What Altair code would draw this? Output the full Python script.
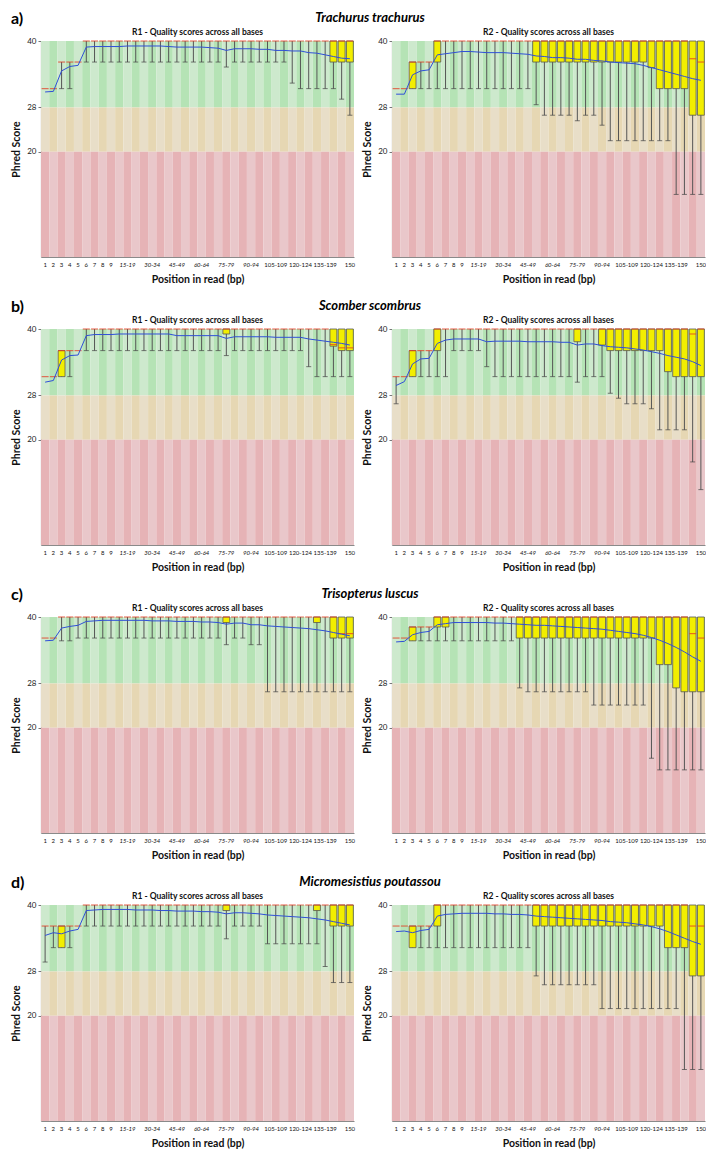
import altair as alt
import pandas as pd
import json

positions = ["1", "2", "3", "4", "5", "6", "7", "8", "9", "10-14", "15-19", "20-24", "25-29",
             "30-34", "35-39", "40-44", "45-49", "50-54", "55-59", "60-64", "65-69", "70-74",
             "75-79", "80-84", "85-89", "90-94", "95-99", "100-104", "105-109", "110-114",
             "115-119", "120-124", "125-129", "130-134", "135-139", "140-144", "145-149", "150"]
tick_labels = ["1", "2", "3", "4", "5", "6", "7", "8", "9", "15-19", "30-34", "45-49", "60-64",
               "75-79", "90-94", "105-109", "120-124", "135-139", "150"]
italic_labels = ["15-19", "30-34", "45-49", "60-64", "75-79", "90-94"]

letters = ["a)", "b)", "c)", "d)"]
species = ["Trachurus trachurus", "Scomber scombrus", "Trisopterus luscus", "Micromesistius poutassou"]
read_titles = ["R1 - Quality scores across all bases", "R2 - Quality scores across all bases"]

# quality bands
band_keys = ["g0", "g1", "o0", "o1", "r0", "r1"]
band_colors = ["#cde9cd", "#b5e3b5", "#e8dec8", "#e6d7b3", "#e6b3b6", "#e9c7ca"]
band_lo = [28, 20, 1]
band_hi = [40, 28, 20]
band_prefix = ["g", "o", "r"]

# ---------------- panel data (10th pct, Q1, median, Q3, 90th pct, mean) ----------------
a1_p10 = [31.4, 31.4, 31.4, 31.4, 36.2, 36.2, 36.2, 36.2, 36.2, 36.2, 36.2, 36.2, 36.2, 36.2, 36.2, 36.2, 36.2, 36.2, 36.2, 36.2, 36.2, 36.2, 35.3, 36.2, 36.2, 36.2, 36.2, 36.2, 36.2, 36.2, 32.4, 31.4, 31.4, 31.4, 31.4, 31.4, 29.5, 26.6]
a1_q1 = [31.4, 31.4, 36.2, 36.2, 36.2, 40, 40, 40, 40, 40, 40, 40, 40, 40, 40, 40, 40, 40, 40, 40, 40, 40, 40, 40, 40, 40, 40, 40, 40, 40, 40, 40, 40, 40, 40, 36.2, 36.2, 36.2]
a1_med = [31.4, 31.4, 36.2, 36.2, 36.2, 40, 40, 40, 40, 40, 40, 40, 40, 40, 40, 40, 40, 40, 40, 40, 40, 40, 40, 40, 40, 40, 40, 40, 40, 40, 40, 40, 40, 40, 40, 40, 40, 40]
a1_q3 = [31.4, 31.4, 36.2, 36.2, 36.2, 40, 40, 40, 40, 40, 40, 40, 40, 40, 40, 40, 40, 40, 40, 40, 40, 40, 40, 40, 40, 40, 40, 40, 40, 40, 40, 40, 40, 40, 40, 40, 40, 40]
a1_p90 = [31.4, 31.4, 36.2, 36.2, 36.2, 40, 40, 40, 40, 40, 40, 40, 40, 40, 40, 40, 40, 40, 40, 40, 40, 40, 40, 40, 40, 40, 40, 40, 40, 40, 40, 40, 40, 40, 40, 40, 40, 40]
a1_mean = [30.8, 30.9, 34.6, 35.4, 35.6, 38.9, 39.0, 39.0, 39.0, 39.0, 39.1, 39.1, 39.1, 39.1, 39.1, 39.0, 38.9, 38.9, 38.9, 38.9, 38.8, 38.7, 38.3, 38.6, 38.6, 38.6, 38.5, 38.5, 38.3, 38.3, 38.2, 38.2, 37.9, 37.8, 37.5, 37.2, 36.9, 36.8]

a2_p10 = [31.4, 31.4, 31.4, 31.4, 31.4, 31.4, 31.4, 31.4, 31.4, 31.4, 31.4, 31.4, 31.4, 31.4, 31.4, 31.4, 31.4, 28.5, 26.6, 26.6, 26.6, 26.6, 25.6, 26.6, 26.6, 24.8, 22.0, 22.0, 22.0, 22.0, 22.0, 22.0, 22.0, 22.0, 12.3, 12.3, 12.3, 12.3]
a2_q1 = [31.4, 31.4, 31.4, 36.2, 36.2, 36.2, 40, 40, 40, 40, 40, 40, 40, 40, 40, 40, 40, 36.2, 36.2, 36.2, 36.2, 36.2, 36.2, 36.2, 36.2, 36.2, 36.2, 36.2, 36.2, 36.2, 36.2, 35.2, 31.4, 31.4, 31.4, 31.4, 26.6, 26.6]
a2_med = [31.4, 31.4, 36.2, 36.2, 36.2, 40, 40, 40, 40, 40, 40, 40, 40, 40, 40, 40, 40, 40, 40, 40, 40, 40, 40, 40, 40, 40, 40, 40, 40, 40, 40, 40, 40, 40, 40, 40, 36.8, 36.2]
a2_q3 = [31.4, 31.4, 36.2, 36.2, 36.2, 40, 40, 40, 40, 40, 40, 40, 40, 40, 40, 40, 40, 40, 40, 40, 40, 40, 40, 40, 40, 40, 40, 40, 40, 40, 40, 40, 40, 40, 40, 40, 40, 40]
a2_p90 = [31.4, 31.4, 36.2, 36.2, 36.2, 40, 40, 40, 40, 40, 40, 40, 40, 40, 40, 40, 40, 40, 40, 40, 40, 40, 40, 40, 40, 40, 40, 40, 40, 40, 40, 40, 40, 40, 40, 40, 40, 40]
a2_mean = [30.4, 30.4, 33.9, 34.6, 34.8, 37.5, 37.7, 37.9, 38.1, 38.1, 38.0, 37.9, 37.9, 37.9, 37.8, 37.7, 37.6, 37.3, 37.2, 37.0, 37.0, 36.9, 36.7, 36.7, 36.5, 36.4, 36.2, 36.1, 36.0, 35.9, 35.6, 35.2, 34.8, 34.4, 34.0, 33.6, 33.2, 32.9]

b1_p10 = [31.4, 31.4, 31.4, 31.4, 36.1, 36.1, 36.1, 36.1, 36.1, 36.1, 36.1, 36.1, 36.1, 36.1, 36.1, 36.1, 36.1, 36.1, 36.1, 36.1, 36.1, 36.1, 35.2, 36.1, 36.1, 36.1, 36.1, 36.1, 36.1, 36.1, 36.1, 36.1, 33.2, 31.4, 31.4, 31.4, 31.4, 31.4]
b1_q1 = [31.4, 31.4, 31.4, 36.1, 36.1, 40, 40, 40, 40, 40, 40, 40, 40, 40, 40, 40, 40, 40, 40, 40, 40, 40, 39.1, 40, 40, 40, 40, 40, 40, 40, 40, 40, 40, 40, 40, 36.9, 36.1, 36.1]
b1_med = [31.4, 31.4, 36.1, 36.1, 36.1, 40, 40, 40, 40, 40, 40, 40, 40, 40, 40, 40, 40, 40, 40, 40, 40, 40, 40, 40, 40, 40, 40, 40, 40, 40, 40, 40, 40, 40, 40, 37.2, 36.6, 36.6]
b1_q3 = [31.4, 31.4, 36.1, 36.1, 36.1, 40, 40, 40, 40, 40, 40, 40, 40, 40, 40, 40, 40, 40, 40, 40, 40, 40, 40, 40, 40, 40, 40, 40, 40, 40, 40, 40, 40, 40, 40, 40, 40, 40]
b1_p90 = [31.4, 31.4, 36.1, 36.1, 36.1, 40, 40, 40, 40, 40, 40, 40, 40, 40, 40, 40, 40, 40, 40, 40, 40, 40, 40, 40, 40, 40, 40, 40, 40, 40, 40, 40, 40, 40, 40, 40, 40, 40]
b1_mean = [30.4, 30.7, 34.4, 35.2, 35.3, 38.8, 39.0, 39.0, 39.0, 39.1, 39.1, 39.1, 39.1, 39.1, 39.1, 39.1, 38.8, 38.8, 38.8, 38.8, 38.8, 38.8, 38.3, 38.6, 38.6, 38.6, 38.6, 38.6, 38.5, 38.5, 38.5, 38.5, 38.2, 38.0, 37.8, 37.6, 37.4, 37.1]

b2_p10 = [26.5, 31.4, 31.4, 31.4, 31.4, 31.4, 31.4, 36.1, 36.1, 36.1, 36.1, 33.2, 31.4, 31.4, 31.4, 31.4, 31.4, 31.4, 31.4, 31.4, 31.4, 31.4, 30.4, 31.4, 31.4, 31.4, 28.4, 27.5, 26.5, 26.5, 26.5, 25.6, 21.8, 21.8, 21.8, 21.8, 16.0, 11.0]
b2_q1 = [31.4, 31.4, 31.4, 36.1, 36.1, 36.1, 40, 40, 40, 40, 40, 40, 40, 40, 40, 40, 40, 40, 40, 40, 40, 40, 37.7, 40, 40, 37.1, 36.1, 36.1, 36.1, 36.1, 36.1, 36.1, 36.1, 32.3, 31.4, 31.4, 31.4, 31.4]
b2_med = [31.4, 31.4, 36.1, 36.1, 36.1, 40, 40, 40, 40, 40, 40, 40, 40, 40, 40, 40, 40, 40, 40, 40, 40, 40, 40, 40, 40, 40, 40, 40, 40, 40, 40, 40, 40, 40, 40, 40, 39.1, 40]
b2_q3 = [31.4, 31.4, 36.1, 36.1, 36.1, 40, 40, 40, 40, 40, 40, 40, 40, 40, 40, 40, 40, 40, 40, 40, 40, 40, 40, 40, 40, 40, 40, 40, 40, 40, 40, 40, 40, 40, 40, 40, 40, 40]
b2_p90 = [31.4, 31.4, 36.1, 36.1, 36.1, 40, 40, 40, 40, 40, 40, 40, 40, 40, 40, 40, 40, 40, 40, 40, 40, 40, 40, 40, 40, 40, 40, 40, 40, 40, 40, 40, 40, 40, 40, 40, 40, 40]
b2_mean = [29.8, 30.5, 33.7, 34.6, 34.7, 37.4, 38.0, 38.2, 38.2, 38.2, 38.2, 37.7, 37.8, 37.8, 37.8, 37.8, 37.7, 37.7, 37.7, 37.7, 37.6, 37.6, 37.1, 37.3, 37.3, 37.0, 36.8, 36.7, 36.6, 36.4, 36.2, 35.9, 35.6, 35.2, 34.9, 34.6, 34.1, 33.4]

c1_p10 = [36.2, 36.2, 35.7, 35.7, 36.2, 36.2, 36.2, 36.2, 36.2, 36.2, 36.2, 36.2, 36.2, 36.2, 36.2, 36.2, 36.2, 36.2, 36.2, 36.2, 36.2, 36.2, 35.0, 36.2, 36.2, 35.0, 35.0, 26.5, 26.5, 26.5, 26.5, 26.5, 26.5, 26.5, 26.5, 26.5, 26.5, 26.5]
c1_q1 = [36.2, 36.2, 40, 40, 40, 40, 40, 40, 40, 40, 40, 40, 40, 40, 40, 40, 40, 40, 40, 40, 40, 40, 39.0, 40, 40, 40, 40, 40, 40, 40, 40, 40, 40, 39.0, 40, 36.2, 36.2, 36.2]
c1_med = [36.2, 36.2, 40, 40, 40, 40, 40, 40, 40, 40, 40, 40, 40, 40, 40, 40, 40, 40, 40, 40, 40, 40, 40, 40, 40, 40, 40, 40, 40, 40, 40, 40, 40, 40, 40, 40, 37.0, 37.0]
c1_q3 = [36.2, 36.2, 40, 40, 40, 40, 40, 40, 40, 40, 40, 40, 40, 40, 40, 40, 40, 40, 40, 40, 40, 40, 40, 40, 40, 40, 40, 40, 40, 40, 40, 40, 40, 40, 40, 40, 40, 40]
c1_p90 = [36.2, 36.2, 40, 40, 40, 40, 40, 40, 40, 40, 40, 40, 40, 40, 40, 40, 40, 40, 40, 40, 40, 40, 40, 40, 40, 40, 40, 40, 40, 40, 40, 40, 40, 40, 40, 40, 40, 40]
c1_mean = [35.7, 35.8, 38.0, 38.3, 38.5, 39.2, 39.3, 39.4, 39.4, 39.4, 39.4, 39.4, 39.4, 39.3, 39.3, 39.3, 39.2, 39.2, 39.2, 39.1, 39.1, 39.0, 38.7, 38.9, 38.9, 38.6, 38.6, 38.4, 38.3, 38.2, 38.1, 38.0, 37.9, 37.7, 37.5, 37.2, 36.9, 36.6]

c2_p10 = [36.2, 36.2, 35.7, 35.7, 35.7, 35.7, 35.7, 35.7, 35.7, 35.7, 35.7, 35.7, 35.7, 35.7, 35.7, 27.2, 26.5, 26.5, 26.5, 26.5, 26.5, 26.5, 26.5, 26.5, 24.1, 24.1, 24.1, 24.1, 24.1, 24.1, 24.1, 14.5, 12.4, 12.4, 12.4, 12.4, 12.4, 12.4]
c2_q1 = [36.2, 36.2, 35.7, 38.2, 38.2, 38.2, 38.2, 40, 40, 40, 40, 40, 40, 40, 40, 36.2, 36.2, 36.2, 36.2, 36.2, 36.2, 36.2, 36.2, 36.2, 36.2, 36.2, 36.2, 36.2, 36.2, 36.2, 36.2, 36.2, 31.4, 31.4, 27.2, 26.5, 26.5, 26.5]
c2_med = [36.2, 36.2, 38.2, 38.2, 38.2, 40, 40, 40, 40, 40, 40, 40, 40, 40, 40, 40, 40, 40, 40, 40, 40, 40, 40, 40, 40, 40, 40, 40, 40, 40, 40, 40, 40, 40, 40, 40, 37.0, 36.2]
c2_q3 = [36.2, 36.2, 38.2, 38.2, 38.2, 40, 40, 40, 40, 40, 40, 40, 40, 40, 40, 40, 40, 40, 40, 40, 40, 40, 40, 40, 40, 40, 40, 40, 40, 40, 40, 40, 40, 40, 40, 40, 40, 40]
c2_p90 = [36.2, 36.2, 38.2, 38.2, 38.2, 40, 40, 40, 40, 40, 40, 40, 40, 40, 40, 40, 40, 40, 40, 40, 40, 40, 40, 40, 40, 40, 40, 40, 40, 40, 40, 40, 40, 40, 40, 40, 40, 40]
c2_mean = [35.5, 35.6, 36.8, 37.2, 37.4, 38.6, 38.8, 39.0, 39.0, 39.0, 39.0, 39.0, 38.9, 38.9, 38.8, 38.7, 38.6, 38.5, 38.5, 38.4, 38.3, 38.2, 38.1, 38.0, 37.9, 37.8, 37.6, 37.4, 37.2, 37.0, 36.7, 36.3, 35.8, 35.2, 34.5, 33.7, 32.8, 32.0]

d1_p10 = [29.7, 32.3, 32.3, 32.3, 36.2, 36.2, 36.2, 36.2, 36.2, 36.2, 36.2, 36.2, 36.2, 36.2, 36.2, 36.2, 36.2, 36.2, 36.2, 36.2, 36.2, 36.2, 33.9, 36.2, 36.2, 36.2, 36.2, 33.0, 33.0, 33.0, 33.0, 33.0, 33.0, 33.0, 28.9, 26.0, 26.0, 26.0]
d1_q1 = [36.2, 36.2, 32.3, 36.2, 36.2, 40, 40, 40, 40, 40, 40, 40, 40, 40, 40, 40, 40, 40, 40, 40, 40, 40, 39.0, 40, 40, 40, 40, 40, 40, 40, 40, 40, 40, 39.0, 40, 36.2, 36.2, 36.2]
d1_med = [36.2, 36.2, 36.2, 36.2, 36.2, 40, 40, 40, 40, 40, 40, 40, 40, 40, 40, 40, 40, 40, 40, 40, 40, 40, 40, 40, 40, 40, 40, 40, 40, 40, 40, 40, 40, 40, 40, 40, 40, 40]
d1_q3 = [36.2, 36.2, 36.2, 36.2, 36.2, 40, 40, 40, 40, 40, 40, 40, 40, 40, 40, 40, 40, 40, 40, 40, 40, 40, 40, 40, 40, 40, 40, 40, 40, 40, 40, 40, 40, 40, 40, 40, 40, 40]
d1_p90 = [36.2, 36.2, 36.2, 36.2, 36.2, 40, 40, 40, 40, 40, 40, 40, 40, 40, 40, 40, 40, 40, 40, 40, 40, 40, 40, 40, 40, 40, 40, 40, 40, 40, 40, 40, 40, 40, 40, 40, 40, 40]
d1_mean = [34.5, 35.0, 34.8, 35.3, 35.6, 39.0, 39.1, 39.2, 39.2, 39.2, 39.2, 39.1, 39.1, 39.1, 39.0, 39.0, 38.9, 38.9, 38.9, 38.8, 38.8, 38.7, 38.4, 38.6, 38.6, 38.5, 38.4, 38.2, 38.1, 38.0, 37.9, 37.8, 37.7, 37.5, 37.3, 37.0, 36.7, 36.4]

d2_p10 = [36.2, 36.2, 32.3, 32.3, 32.3, 32.3, 32.3, 32.3, 32.3, 32.3, 32.3, 32.3, 32.3, 32.3, 32.3, 32.3, 32.3, 27.2, 25.6, 25.6, 25.6, 25.6, 25.6, 25.6, 25.6, 21.3, 21.3, 21.3, 21.3, 21.3, 21.3, 21.3, 21.3, 21.3, 21.3, 10.3, 10.3, 10.3]
d2_q1 = [36.2, 36.2, 32.3, 36.2, 36.2, 36.2, 40, 40, 40, 40, 40, 40, 40, 40, 40, 40, 40, 36.2, 36.2, 36.2, 36.2, 36.2, 36.2, 36.2, 36.2, 36.2, 36.2, 36.2, 36.2, 36.2, 36.2, 36.2, 36.2, 32.3, 32.3, 32.3, 27.2, 27.2]
d2_med = [36.2, 36.2, 36.2, 36.2, 36.2, 40, 40, 40, 40, 40, 40, 40, 40, 40, 40, 40, 40, 40, 40, 40, 40, 40, 40, 40, 40, 40, 40, 40, 40, 40, 40, 40, 40, 40, 40, 40, 36.2, 36.2]
d2_q3 = [36.2, 36.2, 36.2, 36.2, 36.2, 40, 40, 40, 40, 40, 40, 40, 40, 40, 40, 40, 40, 40, 40, 40, 40, 40, 40, 40, 40, 40, 40, 40, 40, 40, 40, 40, 40, 40, 40, 40, 40, 40]
d2_p90 = [36.2, 36.2, 36.2, 36.2, 36.2, 40, 40, 40, 40, 40, 40, 40, 40, 40, 40, 40, 40, 40, 40, 40, 40, 40, 40, 40, 40, 40, 40, 40, 40, 40, 40, 40, 40, 40, 40, 40, 40, 40]
d2_mean = [35.2, 35.3, 35.0, 35.4, 35.6, 38.0, 38.3, 38.4, 38.5, 38.5, 38.5, 38.5, 38.4, 38.4, 38.3, 38.3, 38.2, 38.0, 37.9, 37.8, 37.7, 37.6, 37.5, 37.4, 37.3, 37.2, 37.0, 36.9, 36.8, 36.6, 36.4, 36.1, 35.7, 35.2, 34.6, 34.0, 33.4, 32.9]

panels = [
    (a1_p10, a1_q1, a1_med, a1_q3, a1_p90, a1_mean),
    (a2_p10, a2_q1, a2_med, a2_q3, a2_p90, a2_mean),
    (b1_p10, b1_q1, b1_med, b1_q3, b1_p90, b1_mean),
    (b2_p10, b2_q1, b2_med, b2_q3, b2_p90, b2_mean),
    (c1_p10, c1_q1, c1_med, c1_q3, c1_p90, c1_mean),
    (c2_p10, c2_q1, c2_med, c2_q3, c2_p90, c2_mean),
    (d1_p10, d1_q1, d1_med, d1_q3, d1_p90, d1_mean),
    (d2_p10, d2_q1, d2_med, d2_q3, d2_p90, d2_mean),
]

# ---------------- styling ----------------
W, H = 313, 216
LATO = "Lato, sans-serif"

rows = []
for i, p in enumerate(positions):
    for b in range(3):
        rows.append({"pos": p, "lo": band_lo[b], "hi": band_hi[b],
                     "key": band_prefix[b] + str(i % 2)})
bg_df = pd.DataFrame(rows)

xscale = alt.Scale(domain=positions, paddingInner=0, paddingOuter=0)
yscale = alt.Scale(domain=[1, 40], nice=False, zero=False)

italic_test = "indexof(" + json.dumps(italic_labels) + ", datum.value) >= 0"
xaxis = alt.Axis(values=tick_labels, ticks=False, labelAngle=0, labelOverlap=False,
                 labelFont=LATO, labelFontSize=6, labelColor="#111", labelPadding=4,
                 labelFontStyle={"condition": {"test": italic_test, "value": "italic"}, "value": "normal"},
                 domainColor="#8a8a8a", domainWidth=1.2,
                 title="Position in read (bp)", titleFont=LATO, titleFontSize=10.5,
                 titleFontWeight="bold", titleColor="#111", titlePadding=7)
yaxis = alt.Axis(values=[20, 28, 40], tickSize=3, tickColor="#777", labelFont=LATO,
                 labelFontSize=8, labelColor="#222", labelPadding=2, domainColor="#8a8a8a",
                 domainWidth=1.2, grid=False, title="Phred Score", titleFont=LATO,
                 titleFontSize=10.5, titleFontWeight="bold", titleColor="#111", titlePadding=5)

X = alt.X("pos:N", sort=positions, scale=xscale, axis=xaxis, title="Position in read (bp)")


def Y(field):
    return alt.Y(field, type="quantitative", scale=yscale, axis=yaxis, title="Phred Score")


def make_panel(k):
    p10, q1, med, q3, p90, mean = panels[k]
    df = pd.DataFrame({"pos": positions, "idx": list(range(len(positions))), "p10": p10,
                       "q1": q1, "med": med, "q3": q3, "p90": p90, "mean": mean})
    base = alt.Chart(df)
    bg = alt.Chart(bg_df).mark_bar(strokeWidth=0).encode(
        x=X, y=Y("lo"), y2="hi",
        color=alt.Color("key:N", scale=alt.Scale(domain=band_keys, range=band_colors), legend=None))
    whisk = base.mark_rule(color="#555555", strokeWidth=1).encode(x=X, y=Y("p10"), y2="p90")
    cap_lo = base.transform_filter("datum.p10 < datum.q1").mark_tick(
        size=5, thickness=1, color="#444444").encode(x=X, y=Y("p10"))
    cap_hi = base.transform_filter("datum.p90 > datum.q3").mark_tick(
        size=5, thickness=1, color="#444444").encode(x=X, y=Y("p90"))
    box = base.transform_filter("datum.q3 > datum.q1").mark_bar(
        color="#f2ee00", stroke="#555555", strokeWidth=0.8,
        width=alt.RelativeBandSize(0.84)).encode(x=X, y=Y("q1"), y2="q3")
    medt = base.mark_tick(size=7, thickness=1.2, color="#e23b22").encode(x=X, y=Y("med"))
    meanl = base.mark_line(color="#2f4fd8", strokeWidth=1).encode(
        x=X, y=Y("mean"), order=alt.Order("idx:Q"))
    ttl = alt.Chart(pd.DataFrame({"t": [read_titles[k % 2]]})).mark_text(
        align="center", baseline="middle", font=LATO, fontSize=8.5, fontWeight="bold",
        color="#111").encode(x=alt.value(W / 2), y=alt.value(-9), text="t:N")
    layers = [bg, whisk, cap_lo, cap_hi, box, medt, meanl, ttl]
    if k % 2 == 0:
        r = k // 2
        lab = alt.Chart(pd.DataFrame({"t": [letters[r]]})).mark_text(
            align="left", baseline="middle", font=LATO, fontSize=16, fontWeight="bold",
            color="#000").encode(x=alt.value(-30), y=alt.value(-22), text="t:N")
        sp = alt.Chart(pd.DataFrame({"t": [species[r]]})).mark_text(
            align="center", baseline="middle", font=LATO, fontSize=13, fontWeight="bold",
            fontStyle="italic", color="#000").encode(x=alt.value(329), y=alt.value(-23), text="t:N")
        layers += [lab, sp]
    return alt.layer(*layers).properties(width=W, height=H)


charts = [make_panel(k) for k in range(8)]
chart = alt.concat(*charts, columns=2, spacing={"row": 72, "column": 38}, bounds="flush").properties(
    padding={"left": 3, "top": 3, "right": 0, "bottom": 0}
).configure_view(stroke=None)

chart.save("out.html", embed_options={"renderer": "svg", "actions": False})
